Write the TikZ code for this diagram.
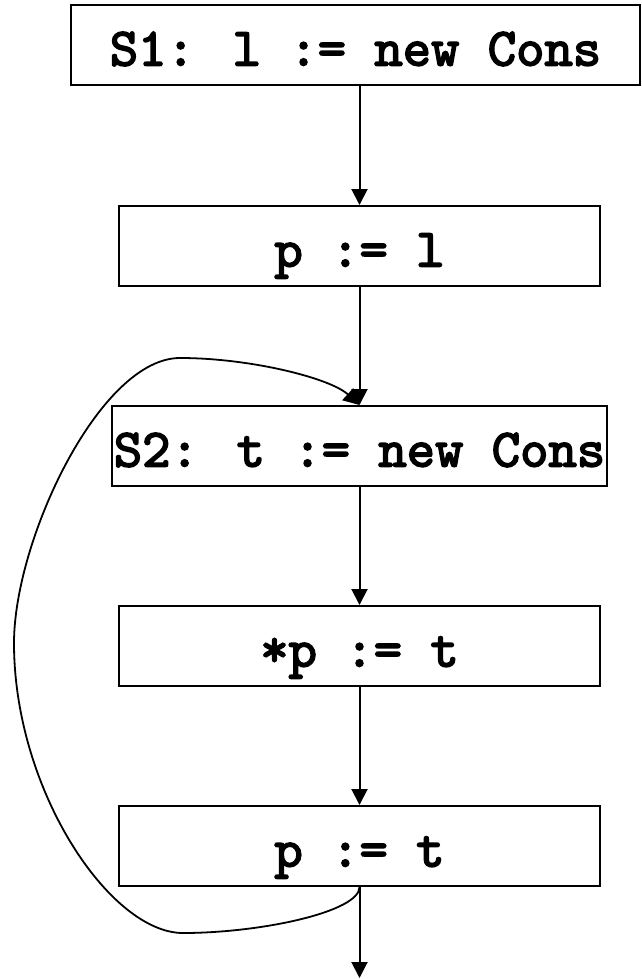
\documentclass[tikz,border=0pt]{standalone}
\usepackage{fontspec}
\newfontfamily\codefont{lmmono10-regular.otf}[FakeBold=3]
\usetikzlibrary{arrows.meta}
\begin{document}
\begin{tikzpicture}[
    x=1pt, y=-1pt,
    stmt/.style={rectangle, draw, line width=2pt, inner sep=0pt, minimum height=80pt,
        text height=41pt, text depth=0pt, font=\codefont\fontsize{54pt}{56pt}\selectfont},
    arrow/.style={-{Triangle[length=16pt,width=16pt]}, line width=2pt},
    loop/.style={-{Triangle[length=16pt,width=16pt]}, line width=1.8pt}
]
    \useasboundingbox (0,0) rectangle (641,979);

    % Statements
    \node[stmt, minimum width=569pt] (s1) at (355.5, 45) {S1: l := new Cons};
    \node[stmt, minimum width=481pt] (pl) at (359.5, 246) {p := l};
    \node[stmt, minimum width=495pt] (s2) at (359.5, 446) {S2: t := new Cons};
    \node[stmt, minimum width=481pt] (st) at (359.5, 646) {*p := t};
    \node[stmt, minimum width=481pt] (pt) at (359.5, 846) {p := t};
    \coordinate (exit) at (359.5, 978);

    % Straight flow
    \draw[arrow] (s1.south -| pl.north) -- (pl.north);
    \draw[arrow] (pl.south) -- (s2.north);
    \draw[arrow] (s2.south) -- (st.north);
    \draw[arrow] (st.south) -- (pt.north);
    \draw[arrow] (pt.south) -- (exit);

    % Back edge
    \draw[loop] (pt.south) .. controls (359.5, 912) and (260, 933) .. (183, 933)
        .. controls (110, 933) and (14, 790) .. (14, 643)
        .. controls (14, 540) and (100, 358) .. (180, 358)
        .. controls (250, 358) and (330, 378) .. (s2.north);
\end{tikzpicture}
\end{document}
